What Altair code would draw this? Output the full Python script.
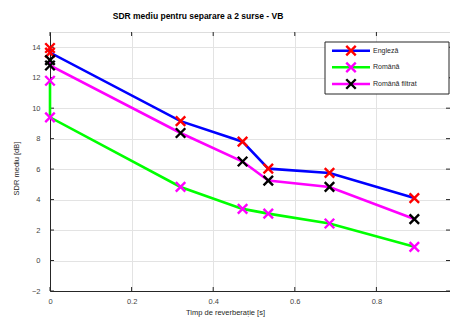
import altair as alt
import pandas as pd

# ---- data ----
series_names = ["Engleză", "Română", "Română filtrat"]
x_vals = [0.0, 0.0, 0.32, 0.472, 0.535, 0.685, 0.893]
engleza = [13.95, 13.65, 9.15, 7.8, 6.03, 5.75, 4.1]
romana = [11.8, 9.4, 4.83, 3.39, 3.08, 2.43, 0.9]
romana_filtrat = [13.15, 12.8, 8.37, 6.5, 5.25, 4.83, 2.72]

line_colors = ["#0000ff", "#00ff00", "#ff00ff"]
marker_colors = ["#ff0000", "#ff00ff", "#000000"]

x_ticks = [0, 0.2, 0.4, 0.6, 0.8, 1.0]
y_ticks = [-2, 0, 2, 4, 6, 8, 10, 12, 14]

W, H = 400, 259
FONT = "Liberation Sans"
XMARK = "M-1,-1L1,1M-1,1L1,-1"

rows = []
for name, vals in zip(series_names, [engleza, romana, romana_filtrat]):
    for i, (xv, yv) in enumerate(zip(x_vals, vals)):
        rows.append({"serie": name, "x": xv, "y": yv, "ord": i})
df = pd.DataFrame(rows)

# the reference's right edge lies just past the window; keep the same px/unit
xscale = alt.Scale(domain=[0, W / 408], nice=False, zero=False)
yscale = alt.Scale(domain=[-2, 15], nice=False, zero=False)

axis_common = dict(
    grid=True, gridColor="#e3e3e3", gridWidth=1,
    domainColor="#262626", domainWidth=1, tickSize=0,
    labelFont=FONT, labelFontSize=7.5, labelColor="#444444",
    labelFlush=False, labelOverlap=False,
    titleFont=FONT, titleFontSize=7.5, titleFontWeight="normal", titleColor="#262626",
    titleBaseline="alphabetic", titleAlign="center",
)
x_axis = alt.Axis(values=x_ticks, format="~g", title="Timp de reverberație [s]",
                  labelPadding=6, titleX=175, titleY=23, **axis_common)
y_axis = alt.Axis(values=y_ticks, format="~g", title="SDR mediu [dB]",
                  labelPadding=10, titleX=-32, titleY=136, titleAngle=270, **axis_common)

base = alt.Chart(df)

# inward ticks
xt = pd.DataFrame({"t": x_ticks})
yt = pd.DataFrame({"t": y_ticks})
tick_style = dict(color="#262626", strokeWidth=1)
ticks = [
    alt.Chart(yt).mark_rule(**tick_style).encode(y=alt.Y("t:Q", scale=yscale, axis=y_axis), x=alt.value(0), x2=alt.value(4)),
    alt.Chart(yt).mark_rule(**tick_style).encode(y=alt.Y("t:Q", scale=yscale, axis=y_axis), x=alt.value(W - 4), x2=alt.value(W)),
    alt.Chart(xt).mark_rule(**tick_style).encode(x=alt.X("t:Q", scale=xscale, axis=x_axis), y=alt.value(H - 4), y2=alt.value(H)),
    alt.Chart(xt).mark_rule(**tick_style).encode(x=alt.X("t:Q", scale=xscale, axis=x_axis), y=alt.value(0), y2=alt.value(4)),
]

lines = base.mark_line(strokeWidth=2.6).encode(
    x=alt.X("x:Q", scale=xscale, axis=x_axis),
    y=alt.Y("y:Q", scale=yscale, axis=y_axis),
    color=alt.Color("serie:N", scale=alt.Scale(domain=series_names, range=line_colors), legend=None),
    order="ord:Q",
    detail="serie:N",
)

points = base.mark_point(shape=XMARK, size=90, strokeWidth=2.4, filled=False, opacity=1).encode(
    x=alt.X("x:Q", scale=xscale, axis=x_axis),
    y=alt.Y("y:Q", scale=yscale, axis=y_axis),
    stroke=alt.Stroke("serie:N", scale=alt.Scale(domain=series_names, range=marker_colors), legend=None),
)

# manual legend box (MATLAB style)
one = pd.DataFrame({"a": [0]})
legend_layers = [
    alt.Chart(one).mark_rect(fill="white", stroke="#262626", strokeWidth=1).encode(
        x=alt.value(275), x2=alt.value(399), y=alt.value(10), y2=alt.value(62)
    )
]
row_y = [18.7, 35.3, 52.0]
for name, lc, mc, ry in zip(series_names, line_colors, marker_colors, row_y):
    legend_layers.append(alt.Chart(one).mark_rule(color=lc, strokeWidth=2.6).encode(
        x=alt.value(282), x2=alt.value(320), y=alt.value(ry)))
    legend_layers.append(alt.Chart(one).mark_point(shape=XMARK, size=90, strokeWidth=2.4, color=mc, opacity=1).encode(
        x=alt.value(301), y=alt.value(ry)))
    legend_layers.append(alt.Chart(one).mark_text(text=name, align="left", baseline="middle",
                                                  font=FONT, fontSize=7, color="#262626").encode(
        x=alt.value(323), y=alt.value(ry)))

chart = alt.layer(*ticks, lines, points, *legend_layers).properties(
    width=W, height=H,
    title=alt.TitleParams(
        text="SDR mediu pentru separare a 2 surse - VB",
        font=FONT, fontSize=8.5, fontWeight="bold", color="#000000",
        anchor="middle", dx=-52, offset=11,
    ),
    autosize=alt.AutoSizeParams(type="none"),
    padding={"left": 42, "top": 24, "right": 0, "bottom": 30},
).configure_view(stroke="#262626", strokeWidth=1).configure_axis(
    labelOverlap=False
).configure(background="white")

chart.save("out.html", embed_options={"renderer": "svg", "actions": False})
